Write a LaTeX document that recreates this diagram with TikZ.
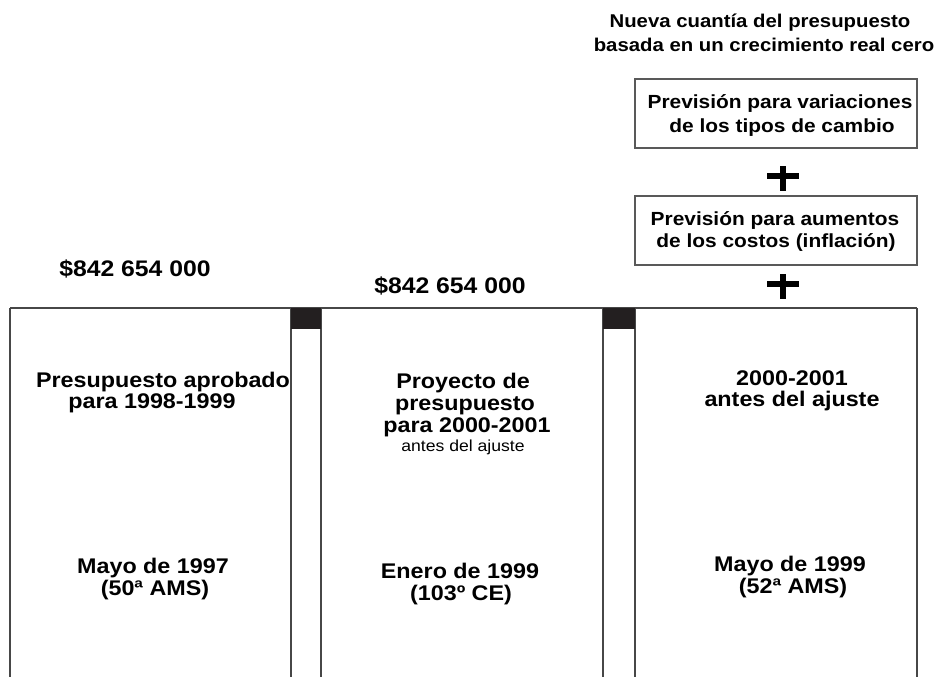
\documentclass[tikz,border=0pt]{standalone}
\usepackage{fontspec}
\setmainfont{Liberation Sans}[FakeStretch=1.1]
\definecolor{barcol}{RGB}{35,31,32}
\begin{document}
\begin{tikzpicture}[x=1pt,y=-1pt,
  ln/.style={draw=black!72,line width=1.1pt},
  topbox/.style={draw=black!65,line width=1.1pt,minimum width=282pt,minimum height=69pt,inner sep=0pt},
  lbl/.style={anchor=base,inner sep=0pt,font=\bfseries\fontsize{21.2}{23}\selectfont},
  money/.style={anchor=base,inner sep=0pt,font=\bfseries\fontsize{22.5}{24}\selectfont},
  ttl/.style={anchor=base,inner sep=0pt,font=\bfseries\fontsize{18.5}{20}\selectfont},
  btxt/.style={anchor=base,inner sep=0pt,font=\bfseries\fontsize{19}{21}\selectfont},
  small/.style={anchor=base,inner sep=0pt,font=\fontsize{16}{18}\selectfont},
  bar/.style={fill=barcol}]
\useasboundingbox (0,0) rectangle (935,677);
% title
\node[ttl] (t1) at (760,28) {Nueva cuantía del presupuesto};
\node[ttl] (t2) at (764,52) {basada en un crecimiento real cero};
% top boxes
\node[topbox] (b1) at (776,113.5) {};
\node[btxt] (b1a) at (780,109) {Previsión para variaciones};
\node[btxt] (b1b) at (782,132) {de los tipos de cambio};
\node[topbox] (b2) at (776,230.5) {};
\node[btxt] (b2a) at (775,225) {Previsión para aumentos};
\node[btxt] (b2b) at (776,247) {de los costos (inflación)};
% plus signs
\fill (767,172.5) rectangle (799,178.5);
\fill (780,166) rectangle (786,191);
\fill (767,280.5) rectangle (799,286.5);
\fill (780,274) rectangle (786,299);
% money labels
\node[money] (m1) at (135,276) {\$842 654 000};
\node[money] (m2) at (450,293) {\$842 654 000};
% columns
\coordinate (c0) at (10,308);
\coordinate (cR) at (917,308);
\draw[ln] (c0) -- (cR);
\foreach \x in {10,291,321,603,635,917} \draw[ln] (\x,308) -- (\x,678);
\fill[bar] (291,308) rectangle (321,329);
\fill[bar] (603,308) rectangle (635,329);
% left column
\node[lbl] (l1) at (163,387) {Presupuesto aprobado};
\node[lbl] (l2) at (152,408) {para 1998-1999};
\node[lbl] (l3) at (153,573) {Mayo de 1997};
\node[lbl] (l4) at (155,595) {(50ª AMS)};
% middle column
\node[lbl] (c1) at (463,388) {Proyecto de};
\node[lbl] (c2) at (465,410) {presupuesto};
\node[lbl] (c3) at (467,432) {para 2000-2001};
\node[small] (c4) at (463,451) {antes del ajuste};
\node[lbl] (c5) at (460,578) {Enero de 1999};
\node[lbl] (c6) at (461,600) {(103º CE)};
% right column
\node[lbl] (r1) at (792,385) {2000-2001};
\node[lbl] (r2) at (792,406) {antes del ajuste};
\node[lbl] (r3) at (790,571) {Mayo de 1999};
\node[lbl] (r4) at (793,593) {(52ª AMS)};
\end{tikzpicture}
\end{document}
